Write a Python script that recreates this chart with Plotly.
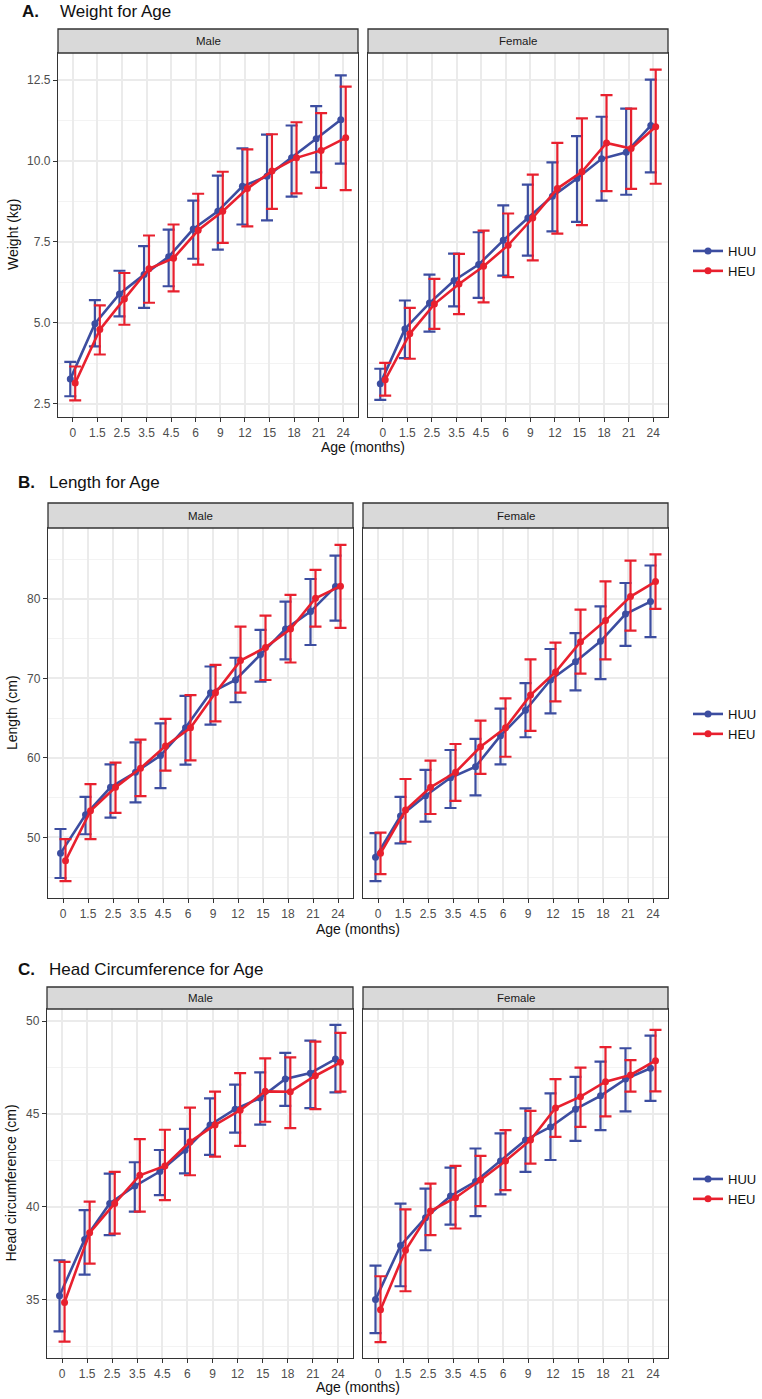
import plotly.graph_objects as go

ages = ["0", "1.5", "2.5", "3.5", "4.5", "6", "9", "12", "15", "18", "21", "24"]
groups = ["HUU", "HEU"]
sexes = ["Male", "Female"]

# ---------------- Weight (kg) ----------------
wt_m_huu = [3.26, 4.97, 5.89, 6.49, 7.04, 7.90, 8.45, 9.22, 9.53, 10.10, 10.69, 11.28]
wt_m_huu_hi = [3.79, 5.70, 6.61, 7.37, 7.88, 8.78, 9.55, 10.39, 10.82, 11.10, 11.70, 12.65]
wt_m_huu_lo = [2.73, 4.27, 5.20, 5.46, 6.13, 6.98, 7.26, 8.04, 8.17, 8.90, 9.65, 9.92]
wt_m_heu = [3.14, 4.79, 5.74, 6.67, 7.00, 7.86, 8.45, 9.15, 9.69, 10.10, 10.33, 10.72]
wt_m_heu_hi = [3.65, 5.54, 6.54, 7.70, 8.04, 8.99, 9.67, 10.36, 10.83, 11.20, 11.48, 12.30]
wt_m_heu_lo = [2.60, 4.02, 4.94, 5.62, 5.97, 6.80, 7.47, 7.98, 8.52, 9.00, 9.17, 9.10]
wt_f_huu = [3.12, 4.81, 5.61, 6.31, 6.80, 7.55, 8.24, 8.91, 9.46, 10.07, 10.27, 11.10]
wt_f_huu_hi = [3.58, 5.69, 6.49, 7.14, 7.80, 8.63, 9.27, 9.96, 10.77, 11.37, 11.62, 12.52]
wt_f_huu_lo = [2.62, 3.91, 4.73, 5.51, 5.77, 6.46, 7.08, 7.83, 8.12, 8.78, 8.96, 9.65]
wt_f_heu = [3.24, 4.66, 5.58, 6.20, 6.75, 7.40, 8.24, 9.15, 9.67, 10.56, 10.39, 11.06]
wt_f_heu_hi = [3.76, 5.46, 6.36, 7.13, 7.85, 8.38, 9.58, 10.56, 11.32, 12.04, 11.62, 12.83]
wt_f_heu_lo = [2.75, 3.89, 4.81, 5.27, 5.63, 6.41, 6.93, 7.76, 8.02, 9.07, 9.14, 9.30]

# ---------------- Length (cm) ----------------
ln_m_huu = [48.0, 52.85, 56.3, 58.2, 60.3, 63.8, 68.2, 69.8, 73.0, 76.2, 78.4, 81.55]
ln_m_huu_hi = [51.06, 55.1, 59.2, 61.95, 64.35, 67.8, 71.5, 72.6, 76.1, 79.66, 82.5, 85.45]
ln_m_huu_lo = [44.9, 50.4, 52.5, 54.4, 56.2, 59.15, 64.2, 67.0, 69.6, 72.4, 74.2, 77.27]
ln_m_heu = [47.07, 53.35, 56.3, 58.7, 61.5, 63.8, 68.2, 72.24, 73.9, 76.2, 80.08, 81.6]
ln_m_heu_hi = [49.8, 56.7, 59.4, 62.3, 64.9, 67.9, 71.7, 76.5, 77.9, 80.5, 83.65, 86.8]
ln_m_heu_lo = [44.5, 49.8, 53.1, 55.2, 58.4, 59.7, 64.6, 68.2, 69.8, 72.0, 76.5, 76.35]
ln_f_huu = [47.5, 52.7, 55.25, 57.5, 58.9, 62.8, 66.0, 69.8, 72.1, 74.67, 78.1, 79.66]
ln_f_huu_hi = [50.55, 55.1, 58.5, 61.0, 62.4, 66.2, 69.4, 73.7, 75.7, 79.07, 82.0, 84.2]
ln_f_huu_lo = [44.5, 49.25, 52.0, 53.7, 55.3, 59.2, 62.6, 65.6, 68.5, 69.9, 74.1, 75.2]
ln_f_heu = [48.0, 53.45, 56.3, 58.2, 61.4, 63.8, 67.9, 70.8, 74.6, 77.27, 80.3, 82.18]
ln_f_heu_hi = [50.6, 57.35, 59.65, 61.75, 64.7, 67.5, 72.4, 74.5, 78.65, 82.2, 84.8, 85.6]
ln_f_heu_lo = [45.4, 49.46, 52.95, 54.6, 58.0, 60.15, 63.4, 67.1, 70.6, 72.4, 76.0, 78.74]

# ---------------- Head circumference (cm) ----------------
hc_m_huu = [35.21, 38.24, 40.18, 41.12, 41.9, 43.05, 44.41, 45.26, 45.86, 46.88, 47.2, 47.96]
hc_m_huu_hi = [37.12, 39.82, 41.79, 42.4, 43.06, 44.2, 45.84, 46.58, 47.24, 48.29, 48.95, 49.8]
hc_m_huu_lo = [33.29, 36.35, 38.47, 39.74, 40.63, 41.8, 42.8, 44.0, 44.43, 45.44, 45.32, 46.16]
hc_m_heu = [34.85, 38.6, 40.18, 41.7, 42.2, 43.5, 44.41, 45.2, 46.22, 46.2, 47.06, 47.78]
hc_m_heu_hi = [37.03, 40.28, 41.88, 43.64, 44.15, 45.34, 46.2, 47.2, 48.0, 48.05, 48.9, 49.37]
hc_m_heu_lo = [32.74, 36.94, 38.55, 39.74, 40.36, 41.7, 42.7, 43.28, 44.58, 44.24, 45.26, 46.2]
hc_f_huu = [35.0, 37.91, 39.41, 40.58, 41.36, 42.47, 43.6, 44.3, 45.26, 45.98, 46.88, 47.46]
hc_f_huu_hi = [36.83, 40.17, 40.98, 42.11, 43.14, 43.95, 45.3, 46.11, 47.0, 47.82, 48.54, 49.22]
hc_f_huu_lo = [33.2, 35.72, 37.66, 39.04, 39.5, 40.67, 41.88, 42.52, 43.55, 44.13, 45.14, 45.71]
hc_f_heu = [34.46, 37.66, 39.77, 40.49, 41.44, 42.47, 43.6, 45.32, 45.93, 46.74, 47.1, 47.87]
hc_f_heu_hi = [36.26, 39.86, 41.25, 42.2, 42.74, 44.13, 45.17, 46.88, 47.5, 48.6, 47.9, 49.53]
hc_f_heu_lo = [32.71, 35.45, 38.47, 38.83, 40.04, 40.9, 42.33, 43.77, 44.3, 44.87, 46.2, 46.22]

panel_letters = ["A.", "B.", "C."]
panel_titles = ["Weight for Age", "Length for Age", "Head Circumference for Age"]
y_titles = ["Weight (kg)", "Length (cm)", "Head circumference (cm)"]
x_title = "Age (months)"

rows_data = [
    {"Male": {"HUU": (wt_m_huu, wt_m_huu_hi, wt_m_huu_lo), "HEU": (wt_m_heu, wt_m_heu_hi, wt_m_heu_lo)},
     "Female": {"HUU": (wt_f_huu, wt_f_huu_hi, wt_f_huu_lo), "HEU": (wt_f_heu, wt_f_heu_hi, wt_f_heu_lo)}},
    {"Male": {"HUU": (ln_m_huu, ln_m_huu_hi, ln_m_huu_lo), "HEU": (ln_m_heu, ln_m_heu_hi, ln_m_heu_lo)},
     "Female": {"HUU": (ln_f_huu, ln_f_huu_hi, ln_f_huu_lo), "HEU": (ln_f_heu, ln_f_heu_hi, ln_f_heu_lo)}},
    {"Male": {"HUU": (hc_m_huu, hc_m_huu_hi, hc_m_huu_lo), "HEU": (hc_m_heu, hc_m_heu_hi, hc_m_heu_lo)},
     "Female": {"HUU": (hc_f_huu, hc_f_huu_hi, hc_f_huu_lo), "HEU": (hc_f_heu, hc_f_heu_hi, hc_f_heu_lo)}},
]

# ---------------- styling / layout (pixels) ----------------
W, H = 762, 1399
FONT = "Liberation Sans, Arial, sans-serif"
colors = {"HUU": "#3C4DA0", "HEU": "#E8202E"}
dodge = {"HUU": -0.1, "HEU": 0.1}
y_dtick = [2.5, 10, 5]
y_fmt = [".1f", "d", "d"]

# per row: (male x0, male x1, female x0, female x1, strip top, plot top, plot bottom)
geo = [
    (58, 358, 368, 668, 29, 53, 417),
    (48, 353, 363, 668, 503, 528, 898),
    (47, 353, 363, 668, 987, 1009, 1358),
]
title_y = [12, 483, 969]
title_x = [(20, 58), (16, 47), (16, 47)]
xtitle_y = [447, 929, 1387]
ytitle_x = [13, 12, 10]
legend_y = [261, 724, 1189]


def px_x(v):
    return v / W


def px_y(v):
    return 1 - v / H


fig = go.Figure()
shapes = []
annotations = []
layout_axes = {}
idx = list(range(len(ages)))

ax_n = 0
for r, rd in enumerate(rows_data):
    mx0, mx1, fx0, fx1, st, pt, pb = geo[r]
    all_vals = []
    for s in sexes:
        for g in groups:
            all_vals += rd[s][g][1] + rd[s][g][2]
    lo_v, hi_v = min(all_vals), max(all_vals)
    pad = 0.05 * (hi_v - lo_v)
    yrange = [lo_v - pad, hi_v + pad]
    legend_name = "legend" if r == 0 else f"legend{r + 1}"

    for c, s in enumerate(sexes):
        ax_n += 1
        xa = "xaxis" if ax_n == 1 else f"xaxis{ax_n}"
        ya = "yaxis" if ax_n == 1 else f"yaxis{ax_n}"
        xr = "x" if ax_n == 1 else f"x{ax_n}"
        yr = "y" if ax_n == 1 else f"y{ax_n}"
        x0, x1 = (mx0, mx1) if c == 0 else (fx0, fx1)

        layout_axes[xa] = dict(
            domain=[px_x(x0), px_x(x1)], anchor=yr, range=[-0.6, len(ages) - 0.4],
            tickmode="array", tickvals=idx, ticktext=ages,
            showgrid=True, gridcolor="#EBEBEB", gridwidth=1.8, zeroline=False,
            ticks="outside", ticklen=4, tickcolor="#333333", tickwidth=1.2,
            tickfont=dict(size=12, color="#4D4D4D", family=FONT),
            showline=True, mirror=True, linecolor="#333333", linewidth=1.3,
        )
        layout_axes[ya] = dict(
            domain=[px_y(pb), px_y(pt)], anchor=xr, range=yrange,
            tick0=0, dtick=y_dtick[r], tickformat=y_fmt[r],
            showticklabels=(c == 0),
            showgrid=True, gridcolor="#EBEBEB", gridwidth=1.8, zeroline=False,
            minor=dict(tick0=0, dtick=y_dtick[r] / 2, showgrid=True, gridcolor="#F3F3F3", gridwidth=1),
            ticks="outside" if c == 0 else "", ticklen=4, tickcolor="#333333", tickwidth=1.2,
            tickfont=dict(size=12, color="#4D4D4D", family=FONT),
            showline=True, mirror=True, linecolor="#333333", linewidth=1.3,
        )

        # strip
        shapes.append(dict(type="rect", xref="paper", yref="paper",
                           x0=px_x(x0), x1=px_x(x1), y0=px_y(pt), y1=px_y(st),
                           fillcolor="#D9D9D9", line=dict(color="#333333", width=1.3), layer="above"))
        annotations.append(dict(text=s, xref="paper", yref="paper",
                                x=px_x((x0 + x1) / 2), y=px_y((st + pt) / 2),
                                xanchor="center", yanchor="middle", showarrow=False,
                                font=dict(size=11.5, color="#1A1A1A", family=FONT)))

        for g in groups:
            mean, hi, lo = rd[s][g]
            fig.add_trace(go.Scatter(
                x=[i + dodge[g] for i in idx], y=mean,
                mode="lines+markers", name=g,
                line=dict(color=colors[g], width=2.6),
                marker=dict(color=colors[g], size=7),
                error_y=dict(type="data", symmetric=False,
                             array=[h - m for h, m in zip(hi, mean)],
                             arrayminus=[m - l for m, l in zip(mean, lo)],
                             color=colors[g], thickness=2.2, width=6),
                xaxis=xr, yaxis=yr,
                showlegend=(c == 0), legend=legend_name,
            ))

    # panel titles
    annotations.append(dict(text="<b>" + panel_letters[r] + "</b>", xref="paper", yref="paper",
                            x=px_x(title_x[r][0]), y=px_y(title_y[r]), xanchor="left", yanchor="middle",
                            showarrow=False, font=dict(size=17, color="#111111", family=FONT)))
    annotations.append(dict(text=panel_titles[r], xref="paper", yref="paper",
                            x=px_x(title_x[r][1]), y=px_y(title_y[r]), xanchor="left", yanchor="middle",
                            showarrow=False, font=dict(size=17, color="#111111", family=FONT)))
    # axis titles
    annotations.append(dict(text=x_title, xref="paper", yref="paper",
                            x=px_x((mx0 + fx1) / 2), y=px_y(xtitle_y[r]), xanchor="center", yanchor="middle",
                            showarrow=False, font=dict(size=14, color="#111111", family=FONT)))
    annotations.append(dict(text=y_titles[r], xref="paper", yref="paper", textangle=-90,
                            x=px_x(ytitle_x[r]), y=px_y((pt + pb) / 2), xanchor="center", yanchor="middle",
                            showarrow=False, font=dict(size=14, color="#111111", family=FONT)))

    layout_axes[legend_name] = dict(
        x=px_x(688), y=px_y(legend_y[r]), xanchor="left", yanchor="middle",
        bgcolor="rgba(0,0,0,0)", font=dict(size=13, color="#111111", family=FONT),
        tracegroupgap=0, itemwidth=30,
    )

fig.update_layout(
    width=W, height=H, autosize=False,
    margin=dict(l=0, r=0, t=0, b=0),
    paper_bgcolor="white", plot_bgcolor="white",
    font=dict(family=FONT),
    shapes=shapes, annotations=annotations,
    **layout_axes,
)

fig.write_html("out.html", config={"displayModeBar": False},
               post_script="document.body.style.margin='0';document.body.style.overflow='hidden';")
